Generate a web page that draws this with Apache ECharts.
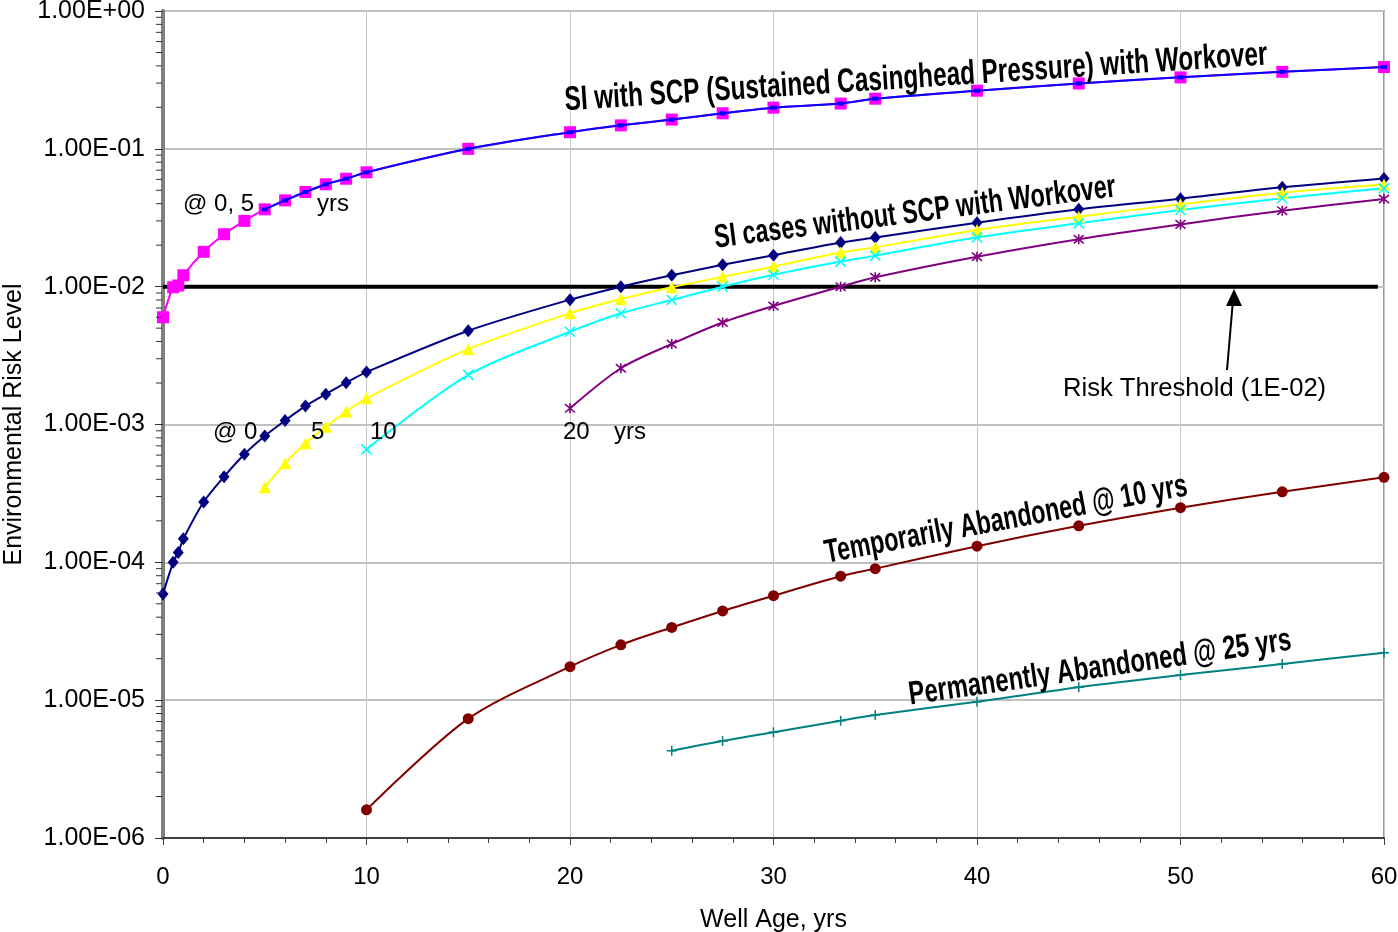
<!DOCTYPE html>
<html>
<head>
<meta charset="utf-8">
<title>Environmental Risk Level vs Well Age</title>
<script src="https://cdn.jsdelivr.net/npm/echarts@6/dist/echarts.min.js"></script>
<style>
  html, body { margin: 0; padding: 0; background: #fff; }
  #chart { width: 1398px; height: 932px; }
</style>
</head>
<body>
<div id="chart"></div>
<script>
// ---- Well ages (yrs) at which each case was evaluated ----
const agesFrom0  = [0, 0.5, 0.75, 1, 2, 3, 4, 5, 6, 7, 8, 9, 10, 15, 20, 22.5, 25, 27.5, 30, 33.3, 35, 40, 45, 50, 55, 60];
const agesFrom5  = [5, 6, 7, 8, 9, 10, 15, 20, 22.5, 25, 27.5, 30, 33.3, 35, 40, 45, 50, 55, 60];
const agesFrom10 = [10, 15, 20, 22.5, 25, 27.5, 30, 33.3, 35, 40, 45, 50, 55, 60];
const agesFrom20 = [20, 22.5, 25, 27.5, 30, 33.3, 35, 40, 45, 50, 55, 60];
const agesFrom25 = [25, 27.5, 30, 33.3, 35, 40, 45, 50, 55, 60];

// ---- Risk levels ----
// Shut-in with SCP, workover at 0 yrs
const scpAt0 = [6.0e-3, 9.9e-3, 1.02e-2, 1.21e-2, 1.79e-2, 2.40e-2, 3.00e-2, 3.64e-2, 4.23e-2, 4.86e-2, 5.53e-2, 6.07e-2, 6.76e-2,
                0.100, 0.132, 0.148, 0.163, 0.181, 0.199, 0.213, 0.231, 0.264, 0.298, 0.330, 0.362, 0.392];
// Shut-in with SCP, workover at 5 yrs
const scpAt5 = [3.64e-2, 4.23e-2, 4.86e-2, 5.53e-2, 6.07e-2, 6.76e-2,
                0.100, 0.132, 0.148, 0.163, 0.181, 0.199, 0.213, 0.231, 0.264, 0.298, 0.330, 0.362, 0.392];
// Shut-in without SCP, workover at 0 / 5 / 10 / 20 yrs
const noScpAt0 = [5.9e-5, 1.0e-4, 1.18e-4, 1.48e-4, 2.74e-4, 4.18e-4, 6.08e-4, 8.25e-4, 1.07e-3, 1.36e-3, 1.66e-3, 2.01e-3, 2.40e-3,
                  4.79e-3, 8.05e-3, 1.0e-2, 1.21e-2, 1.44e-2, 1.69e-2, 2.09e-2, 2.27e-2, 2.91e-2, 3.64e-2, 4.35e-2, 5.26e-2, 6.1e-2];
const noScpAt5 = [3.5e-4, 5.23e-4, 7.3e-4, 9.64e-4, 1.24e-3, 1.55e-3, 3.52e-3, 6.41e-3, 8.13e-3, 9.9e-3,
                  1.18e-2, 1.40e-2, 1.77e-2, 1.93e-2, 2.58e-2, 3.22e-2, 3.96e-2, 4.8e-2, 5.5e-2];
const noScpAt10 = [6.6e-4, 2.29e-3, 4.71e-3, 6.41e-3, 8.0e-3, 1.0e-2, 1.22e-2, 1.52e-2, 1.68e-2, 2.28e-2, 2.88e-2, 3.6e-2, 4.38e-2, 5.17e-2];
const noScpAt20 = [1.31e-3, 2.56e-3, 3.84e-3, 5.5e-3, 7.24e-3, 1.0e-2, 1.17e-2, 1.65e-2, 2.21e-2, 2.83e-2, 3.56e-2, 4.33e-2];
// Temporarily abandoned at 10 yrs
const tempAbandoned = [1.6e-6, 7.34e-6, 1.75e-5, 2.52e-5, 3.37e-5, 4.44e-5, 5.73e-5, 7.93e-5, 9.0e-5, 1.31e-4, 1.84e-4, 2.49e-4, 3.25e-4, 4.14e-4];
// Permanently abandoned at 25 yrs
const permAbandoned = [4.3e-6, 5.06e-6, 5.85e-6, 7.1e-6, 7.8e-6, 9.75e-6, 1.24e-5, 1.52e-5, 1.83e-5, 2.21e-5];

// Risk threshold line
const thresholdValue = 1e-2;
const thresholdAges = [0, 59.7];

// Axis ranges and tick labels
const xTicks = [0, 10, 20, 30, 40, 50, 60];
const yMin = 1e-6, yMax = 1;

const FONT = "'Liberation Sans', Arial, Helvetica, sans-serif";
const pairs = (xs, ys) => xs.map((x, i) => [x, ys[i]]);

// Log-axis minor tick positions (2..9 within each decade)
const minorTickValues = [];
for (let e = -6; e < 0; e++) for (let k = 2; k <= 9; k++) minorTickValues.push(k * Math.pow(10, e));

function expLabel(v) {
  const e = Math.round(Math.log10(v));
  const a = Math.abs(e);
  return '1.00E' + (e < 0 ? '-' : '+') + (a < 10 ? '0' : '') + a;
}

const symX = 'path://M0,0L10,10M10,0L0,10';
const symStar = 'path://M0,0L10,10M10,0L0,10M5,-1L5,11';
const symPlus = 'path://M5,0L5,10M0,5L10,5';

function lineSeries(name, data, color, symbol, size, extra) {
  return Object.assign({
    name, type: 'line', data,
    smooth: 0.3,
    symbol, symbolSize: size, showSymbol: true,
    lineStyle: { color, width: 2 },
    itemStyle: { color, borderColor: color, borderWidth: 0 },
    emphasis: { disabled: true },
    z: 3
  }, extra || {});
}

function slanted(text, x, y, deg, size, sx) {
  return {
    type: 'text', x, y, rotation: deg * Math.PI / 180, scaleX: sx, z: 10,
    style: { text, fontSize: size, fontWeight: 'bold', fontFamily: FONT, fill: '#000',
             align: 'center', verticalAlign: 'middle' }
  };
}

function note(text, x, y, size) {
  return {
    type: 'text', x, y, z: 10,
    style: { text, fontSize: size || 24, fontFamily: FONT, fill: '#000', align: 'left', verticalAlign: 'middle' }
  };
}

const chart = echarts.init(document.getElementById('chart'), null, { renderer: 'canvas' });

const option = {
  animation: false,
  backgroundColor: '#ffffff',
  textStyle: { fontFamily: FONT },
  grid: {
    left: 163, right: 14, top: 11, bottom: 94,
    outerBoundsMode: 'none', containLabel: false,
    show: true, borderColor: '#9a9a9a', borderWidth: 2, backgroundColor: 'transparent'
  },
  xAxis: {
    type: 'value', min: 0, max: 60, interval: 10,
    name: 'Well Age, yrs', nameLocation: 'middle', nameGap: 70,
    nameTextStyle: { fontSize: 25, color: '#000', fontFamily: FONT },
    axisLine: { show: true, onZero: false, lineStyle: { color: '#404040', width: 2 } },
    axisTick: { show: true, length: 7, lineStyle: { color: '#404040', width: 1 } },
    minorTick: { show: true, splitNumber: 5, length: 5, lineStyle: { color: '#404040', width: 1 } },
    axisLabel: {
      fontSize: 24, color: '#000', margin: 27, fontFamily: FONT,
      formatter: v => (xTicks.indexOf(v) >= 0 ? String(v) : '')
    },
    splitLine: { show: true, lineStyle: { color: '#c8c8c8', width: 1 } }
  },
  yAxis: {
    type: 'log', logBase: 10, min: yMin, max: yMax, splitNumber: 6,
    name: 'Environmental Risk Level', nameLocation: 'middle', nameGap: 134,
    nameTextStyle: { fontSize: 25, color: '#000', fontFamily: FONT },
    axisLine: { show: true, onZero: false, lineStyle: { color: '#808080', width: 4 } },
    axisTick: { show: true, length: 8, lineStyle: { color: '#333', width: 1 } },
    axisLabel: { fontSize: 25, color: '#000', margin: 18, fontFamily: FONT, formatter: expLabel },
    splitLine: { show: true, lineStyle: { color: '#c0c0c0', width: 2 } }
  },
  series: [
    {
      name: 'Risk Threshold', type: 'line',
      data: thresholdAges.map(x => [x, thresholdValue]),
      symbol: 'none', lineStyle: { color: '#000', width: 4 }, z: 2, silent: true
    },
    lineSeries('SCP workover @ 0 yrs', pairs(agesFrom0, scpAt0), '#ff00ff', 'rect', 12),
    lineSeries('SCP workover @ 5 yrs', pairs(agesFrom5, scpAt5), '#0000ff', 'rect', [6, 4], { z: 4 }),
    lineSeries('No SCP workover @ 0 yrs', pairs(agesFrom0, noScpAt0), '#000080', 'diamond', [11, 13]),
    lineSeries('No SCP workover @ 5 yrs', pairs(agesFrom5, noScpAt5), '#ffff00', 'triangle', 12),
    lineSeries('No SCP workover @ 10 yrs', pairs(agesFrom10, noScpAt10), '#00ffff', symX, 10,
      { itemStyle: { color: '#00ffff', borderColor: '#00ffff', borderWidth: 1.6 } }),
    lineSeries('No SCP workover @ 20 yrs', pairs(agesFrom20, noScpAt20), '#800080', symStar, 10,
      { itemStyle: { color: '#800080', borderColor: '#800080', borderWidth: 1.6 } }),
    lineSeries('Temporarily Abandoned @ 10 yrs', pairs(agesFrom10, tempAbandoned), '#800000', 'circle', 11),
    lineSeries('Permanently Abandoned @ 25 yrs', pairs(agesFrom25, permAbandoned), '#008080', symPlus, 10,
      { itemStyle: { color: '#008080', borderColor: '#008080', borderWidth: 1.5 } }),
    {
      // minor ticks of the logarithmic axis
      name: 'minor ticks', type: 'custom', silent: true, clip: false, z: 6,
      data: minorTickValues.map(v => [0, v]),
      renderItem: (params, api) => {
        const p = api.coord([api.value(0), api.value(1)]);
        return {
          type: 'line',
          shape: { x1: p[0] - 7, y1: p[1], x2: p[0] - 1, y2: p[1] },
          style: { stroke: '#333', lineWidth: 1 }
        };
      }
    }
  ],
  graphic: [
    // slanted case labels
    slanted('SI with SCP (Sustained Casinghead Pressure) with Workover', 916, 78, 3.74, 34, 0.716),
    slanted('SI cases without SCP with Workover', 915, 213, 7.3, 33, 0.708),
    slanted('Temporarily Abandoned @ 10 yrs', 1006, 520, 10.6, 33, 0.704),
    slanted('Permanently Abandoned @ 25 yrs', 1100, 668, 8.2, 33, 0.722),
    // workover-time notes
    note('@ 0, 5', 183, 204), note('yrs', 317, 204),
    note('@ 0', 213, 432), note('5', 311, 432), note('10', 370, 432), note('20', 563, 432), note('yrs', 614, 432),
    // threshold callout
    note('Risk Threshold (1E-02)', 1063, 389, 25.6),
    { type: 'line', shape: { x1: 1227, y1: 370, x2: 1233, y2: 300 }, style: { stroke: '#000', lineWidth: 2 }, z: 10 },
    { type: 'polygon', shape: { points: [[1234, 289], [1226, 306], [1242, 306]] }, style: { fill: '#000' }, z: 10 }
  ]
};

chart.setOption(option);
</script>
</body>
</html>
